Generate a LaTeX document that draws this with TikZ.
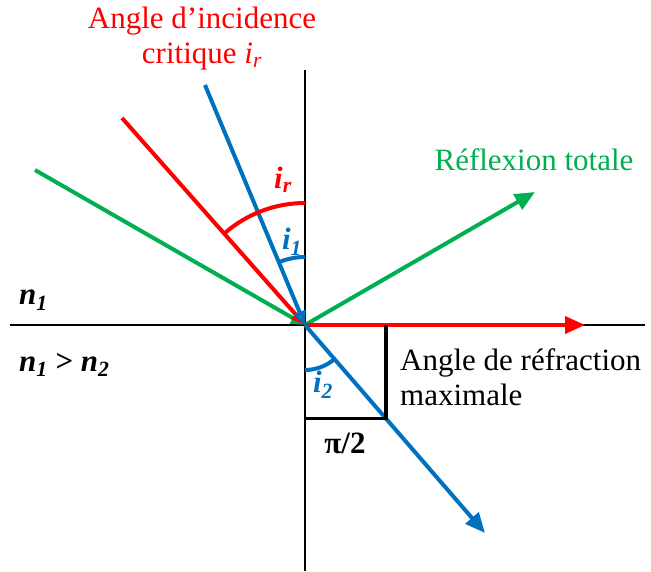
\documentclass[tikz,border=0pt]{standalone}
\usepackage{fontspec}
\setmainfont{Liberation Serif}
\usetikzlibrary{arrows.meta, positioning, calc}
\definecolor{rayblue}{RGB}{0,112,192}
\definecolor{raygreen}{RGB}{0,176,80}
\definecolor{rayred}{RGB}{255,0,0}

\begin{document}
\begin{tikzpicture}[
        x=1pt, y=1pt,
        font=\fontsize{31}{35}\selectfont,
        axis/.style={line width=2pt},
        ray/.style={line width=4pt, -{Triangle[length=14pt, width=12pt]}},
        outray/.style={line width=4pt, -{Triangle[length=20pt, width=17pt]}},
        arc/.style={line width=4pt},
        tag/.style={inner sep=0pt}
    ]
        \useasboundingbox (-305,-246) rectangle (346,325);

        % Points
        \coordinate (O) at (0,0);
        \coordinate (top) at (0,255);
        \coordinate (bottom) at (0,-246);
        \coordinate (left) at (-295,0);
        \coordinate (right) at (340,0);
        \coordinate (bluein) at (-100,240);
        \coordinate (blueout) at (180,-208);
        \coordinate (redin) at (-183,207);
        \coordinate (redout) at (280,0);
        \coordinate (greenin) at (-270,155);
        \coordinate (greenout) at (230,133);
        \coordinate (corner) at ($(O)!0.45!(blueout)$);

        % Axes
        \draw[axis] (top) -- (bottom);
        \draw[axis] (left) -- (right);

        % Rays
        \draw[ray, raygreen] (greenin) -- (O);
        \draw[outray, raygreen] (O) -- (greenout);
        \draw[ray, rayred] (redin) -- (O);
        \draw[outray, rayred] (O) -- (redout);
        \draw[ray, rayblue] (bluein) -- (O);
        \draw[outray, rayblue] (O) -- (blueout);

        % Right angle
        \draw[line width=3.5pt] (0,0 |- corner) -- (corner) -- (corner |- O);

        % Angles
        \draw[arc, rayred] ($(O)+(90:122pt)$) arc[start angle=90, end angle=131.5, radius=122pt];
        \draw[arc, rayblue] ($(O)+(90:68pt)$) arc[start angle=90, end angle=112.6, radius=68pt];
        \draw[arc, rayblue] ($(O)+(270:45pt)$) arc[start angle=270, end angle=310.9, radius=45pt];

        % Labels
        \node[tag, text=rayred] (irtag) at (-22,145) {\textbf{\textit{i}\textsubscript{\textit{r}}}};
        \node[tag, text=rayblue] (ionetag) at (-13,83) {\textbf{\textit{i}\textsubscript{\textit{1}}}};
        \node[tag, text=rayblue] (itwotag) at (18,-60) {\textbf{\textit{i}\textsubscript{\textit{2}}}};
        \node[tag] (pitag) at (40,-118) {\textbf{π/2}};
        \node[tag, anchor=west] (none) at (-286,25) {\textbf{\textit{n}\textsubscript{\textit{1}}}};
        \node[tag, anchor=west] (ntwo) at (-286,-40) {\textbf{\textit{n}\textsubscript{\textit{1}} > \textit{n}\textsubscript{\textit{2}}}};
        \node[text=rayred, align=center] (critique) at (-103,286) {Angle d’incidence\\critique \textit{i}\textsubscript{\textit{r}}};
        \node[text=raygreen] (reflexion) at (229,165) {Réflexion totale};
        \node[align=left, anchor=west, inner sep=0pt] (refraction) at (95,-52) {Angle de réfraction\\maximale};
    \end{tikzpicture}
\end{document}
